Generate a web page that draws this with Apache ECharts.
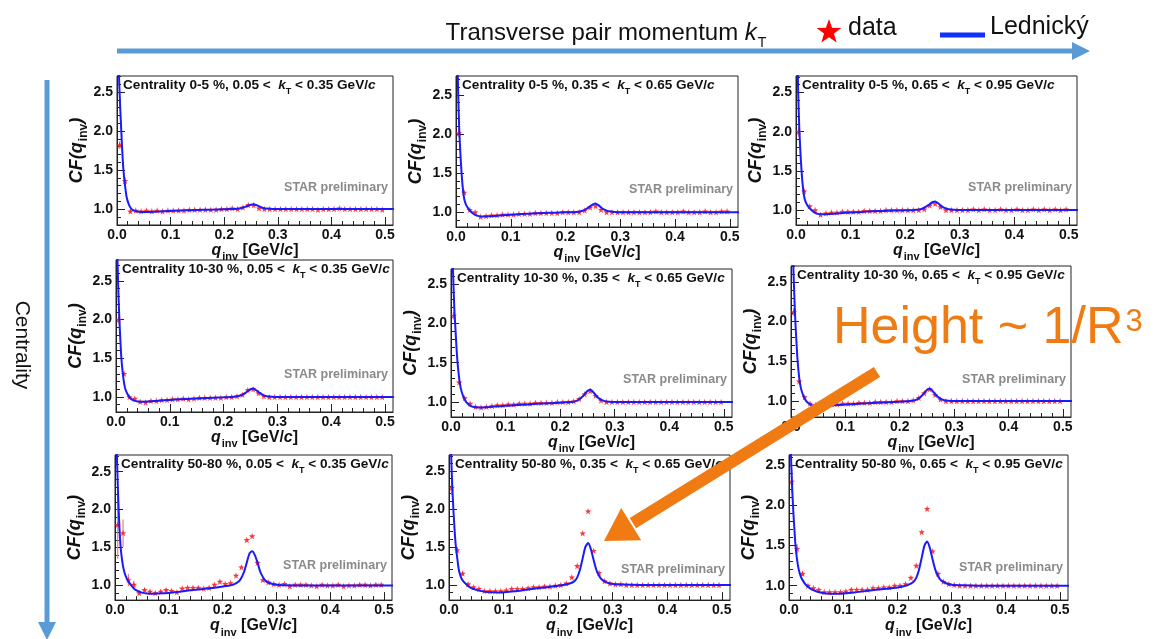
<!DOCTYPE html>
<html><head><meta charset="utf-8">
<script src="https://cdn.jsdelivr.net/npm/echarts@6/dist/echarts.min.js"></script>
<style>html,body{margin:0;padding:0;background:#fff}#c{width:1154px;height:639px}</style>
</head><body><div id="c"></div>
<script>
// ---------------- DATA ----------------
const centralityLabels = ['0-5', '10-30', '50-80'];
const ktLow = ['0.05', '0.35', '0.65'];
const ktHigh = ['0.35', '0.65', '0.95'];
const xTickValues = [0.0, 0.1, 0.2, 0.3, 0.4, 0.5];
const yTickValues = [1.0, 1.5, 2.0, 2.5];

const qData = [0.005,0.015,0.025,0.035,0.045,0.055,0.065,0.075,0.085,0.095,
  0.105,0.115,0.125,0.135,0.145,0.155,0.165,0.175,0.185,0.195,
  0.205,0.215,0.225,0.235,0.245,0.255,0.265,0.275,0.285,0.295,
  0.305,0.315,0.325,0.335,0.345,0.355,0.365,0.375,0.385,0.395,
  0.405,0.415,0.425,0.435,0.445,0.455,0.465,0.475,0.485,0.495];

const qFit = [0,0.002,0.004,0.006,0.008,0.01,0.012,0.015,0.018,0.022,
  0.026,0.03,0.035,0.04,0.05,0.06,0.07,0.08,0.09,0.1,
  0.12,0.14,0.16,0.18,0.2,0.21,0.22,0.23,0.235,0.24,
  0.245,0.25,0.255,0.26,0.265,0.27,0.275,0.28,0.29,0.3,
  0.32,0.35,0.4,0.45,0.5,0.52];

// centrality 0-5 %
const cf_c0_k1 = [1.82,1.36,0.97,0.98,0.97,0.98,0.97,0.98,0.97,0.98,
  0.98,0.98,0.98,0.99,0.99,0.99,0.99,0.99,0.99,1.00,
  1.00,1.01,1.00,1.02,1.05,1.05,1.01,1.00,1.00,1.00,
  1.00,1.00,1.00,1.00,1.00,1.00,1.00,0.99,1.00,1.00,
  1.00,1.01,1.00,1.00,1.00,1.00,1.00,1.00,1.00,0.99];
const cf_c0_k2 = [2.01,1.25,1.03,1.00,0.94,0.95,0.96,0.96,0.97,0.97,
  0.97,0.98,0.98,0.98,0.99,0.99,0.99,0.99,0.99,1.00,
  1.00,1.00,1.00,1.02,1.06,1.08,1.03,1.00,1.00,1.00,
  1.00,1.00,1.00,1.00,1.00,1.00,1.01,1.00,1.00,1.00,
  1.00,1.01,1.00,1.00,1.00,1.01,1.00,1.00,1.01,1.01];
const cf_c0_k3 = [2.00,1.24,1.05,1.00,0.94,0.96,0.97,0.97,0.98,0.98,
  0.98,0.98,0.99,0.99,0.99,0.99,1.00,1.00,1.00,1.00,
  1.00,1.00,1.00,1.01,1.06,1.08,1.04,1.00,1.00,1.00,
  1.00,1.00,1.01,1.00,1.01,1.00,1.00,1.01,1.00,1.00,
  1.01,1.00,1.00,1.01,1.00,1.01,1.00,1.01,1.00,1.01];
// centrality 10-30 %
const cf_c1_k1 = [2.00,1.30,1.00,0.98,0.94,0.93,0.95,0.95,0.96,0.96,
  0.97,0.97,0.98,0.97,0.98,0.99,0.99,0.99,0.99,0.99,
  1.00,1.00,1.01,1.03,1.09,1.10,1.05,1.01,1.00,1.00,
  1.00,1.00,1.00,1.00,1.00,1.00,1.00,1.00,1.00,1.00,
  1.00,1.00,1.00,1.00,1.00,1.00,1.00,1.00,1.00,1.00];
const cf_c1_k2 = [2.10,1.25,1.05,0.98,0.94,0.93,0.94,0.95,0.96,0.96,
  0.97,0.97,0.98,0.98,0.98,0.99,0.99,0.99,0.99,1.00,
  1.00,1.00,1.01,1.04,1.10,1.14,1.08,1.02,1.00,1.00,
  1.00,1.00,1.00,1.00,1.00,1.00,1.00,1.00,1.00,1.00,
  1.00,1.00,1.00,1.00,1.00,1.00,1.00,1.00,1.00,1.00];
const cf_c1_k3 = [2.12,1.25,1.05,0.97,0.95,0.94,0.95,0.96,0.96,0.97,
  0.97,0.97,0.98,0.98,0.98,0.99,0.99,0.99,0.99,1.00,
  1.00,1.00,1.01,1.04,1.10,1.15,1.08,1.02,1.00,1.00,
  1.00,1.00,1.00,1.00,1.00,1.00,1.00,1.00,1.00,1.00,
  1.00,1.00,1.00,1.00,1.00,1.00,1.00,1.00,1.00,1.00];
// centrality 50-80 %
const cf_c2_k1 = [1.80,1.69,1.07,1.01,0.90,0.94,0.92,0.90,0.92,0.94,
  0.93,0.91,0.96,0.97,0.97,0.97,0.96,0.97,1.01,1.05,
  1.02,1.03,1.13,1.24,1.60,1.65,1.30,1.07,1.04,1.02,
  1.01,1.02,0.99,1.01,1.01,1.01,1.00,0.99,1.01,1.00,
  1.00,1.01,0.99,1.00,1.00,1.01,1.01,1.00,1.01,1.01];
const cf_c2_k2 = [2.28,1.46,1.15,1.01,0.97,0.95,0.92,0.92,0.92,0.92,
  0.93,0.95,0.95,0.95,0.96,0.97,0.97,0.98,0.98,0.99,
  1.00,1.02,1.10,1.25,1.68,1.97,1.45,1.16,1.05,1.02,
  1.01,1.01,1.00,1.00,1.00,1.00,1.00,1.00,1.00,1.00,
  1.00,1.00,1.00,1.00,1.00,1.00,1.00,1.00,1.00,1.00];
const cf_c2_k3 = [2.30,1.46,1.15,1.00,0.97,0.95,0.92,0.92,0.92,0.92,
  0.93,0.95,0.95,0.95,0.95,0.97,0.97,0.98,0.98,1.00,
  1.00,1.02,1.10,1.25,1.67,1.96,1.43,1.15,1.05,1.02,
  1.01,1.00,1.00,1.00,1.00,1.00,1.00,1.00,1.00,1.00,
  1.00,1.00,1.00,1.00,1.00,1.00,1.00,1.00,1.00,1.00];

// statistical errors of the first bins (later bins: smaller than the marker)
const err_c0_k1 = [0.05,0.04,0.02,0.01];
const err_c0_k2 = [0.06,0.02,0.01];
const err_c0_k3 = [0.06,0.02,0.01];
const err_c1_k1 = [0.05,0.02];
const err_c1_k2 = [0.05,0.02];
const err_c1_k3 = [0.05,0.02];
const err_c2_k1 = [0.45,0.18,0.08,0.05,0.03,0.02,0.02,0.02,0.02,0.02];
const err_c2_k2 = [0.10,0.04,0.03,0.02];
const err_c2_k3 = [0.15,0.06,0.03,0.02];

// Lednický fits
const fit_c0_k1 = [3.6,3.1,2.65,2.3,2.0,1.72,1.5,1.3,1.15,1.06,
  1.01,0.985,0.972,0.965,0.962,0.962,0.965,0.968,0.972,0.975,
  0.98,0.985,0.99,0.993,0.997,0.999,1.0,1.01,1.02,1.03,
  1.045,1.055,1.06,1.05,1.035,1.02,1.01,1.005,1.0,1.0,
  1.0,1.0,1.0,1.0,1.0,1.0];
const fit_c0_k2 = [4.0,3.2,2.5,2.05,1.75,1.52,1.34,1.17,1.1,1.05,
  1.015,0.99,0.965,0.952,0.945,0.947,0.952,0.957,0.962,0.967,
  0.975,0.982,0.988,0.993,0.997,0.999,1.003,1.015,1.03,1.05,
  1.075,1.1,1.11,1.09,1.06,1.035,1.02,1.01,1.003,1.0,
  1.0,1.0,1.0,1.0,1.0,1.0];
const fit_c0_k3 = [4.0,3.2,2.5,2.05,1.75,1.52,1.34,1.17,1.1,1.05,
  1.015,0.99,0.965,0.952,0.947,0.95,0.955,0.96,0.965,0.97,
  0.977,0.984,0.99,0.994,0.997,0.999,1.003,1.015,1.03,1.05,
  1.075,1.1,1.11,1.09,1.06,1.035,1.02,1.01,1.003,1.0,
  1.0,1.0,1.0,1.0,1.0,1.0];
const fit_c1_k1 = [3.6,3.0,2.45,2.05,1.75,1.5,1.35,1.18,1.09,1.03,
  0.99,0.965,0.95,0.943,0.94,0.942,0.947,0.952,0.957,0.962,
  0.97,0.977,0.984,0.99,0.995,0.998,1.002,1.015,1.03,1.05,
  1.075,1.1,1.11,1.09,1.065,1.04,1.02,1.01,1.003,1.0,
  1.0,1.0,1.0,1.0,1.0,1.0];
const fit_c1_k2 = [4.2,3.1,2.6,2.2,1.95,1.7,1.5,1.3,1.17,1.08,
  1.02,0.985,0.955,0.94,0.93,0.932,0.937,0.943,0.948,0.953,
  0.962,0.97,0.978,0.985,0.992,0.996,1.0,1.015,1.035,1.065,
  1.1,1.14,1.16,1.13,1.09,1.055,1.03,1.015,1.004,1.0,
  1.0,1.0,1.0,1.0,1.0,1.0];
const fit_c1_k3 = [4.0,3.3,2.75,2.35,2.0,1.75,1.52,1.3,1.17,1.08,
  1.02,0.985,0.96,0.945,0.935,0.937,0.942,0.947,0.952,0.957,
  0.965,0.972,0.98,0.986,0.992,0.996,1.0,1.015,1.035,1.065,
  1.1,1.14,1.16,1.13,1.09,1.055,1.03,1.015,1.004,1.0,
  1.0,1.0,1.0,1.0,1.0,1.0];
const fit_c2_k1 = [3.6,3.1,2.6,2.15,1.8,1.55,1.4,1.25,1.16,1.09,
  1.04,1.0,0.96,0.935,0.905,0.893,0.89,0.892,0.896,0.9,
  0.915,0.935,0.95,0.965,0.985,0.995,1.01,1.05,1.1,1.18,
  1.3,1.42,1.45,1.4,1.3,1.18,1.11,1.06,1.025,1.01,
  1.003,1.0,1.0,1.0,1.0,1.0];
const fit_c2_k2 = [3.8,3.2,2.7,2.3,2.0,1.75,1.55,1.36,1.2,1.1,
  1.05,1.02,0.985,0.96,0.935,0.918,0.907,0.902,0.9,0.902,
  0.915,0.935,0.955,0.97,0.99,1.0,1.015,1.05,1.1,1.2,
  1.35,1.5,1.55,1.47,1.33,1.2,1.12,1.07,1.03,1.012,
  1.004,1.0,1.0,1.0,1.0,1.0];
const fit_c2_k3 = [3.8,3.1,2.55,2.2,1.92,1.7,1.5,1.32,1.2,1.11,
  1.06,1.02,0.985,0.96,0.93,0.913,0.903,0.9,0.9,0.903,
  0.915,0.932,0.948,0.962,0.978,0.99,1.01,1.05,1.1,1.2,
  1.35,1.5,1.55,1.47,1.33,1.2,1.12,1.07,1.03,1.012,
  1.004,1.0,1.0,1.0,1.0,1.0];

const panelData = [[cf_c0_k1, cf_c0_k2, cf_c0_k3],[cf_c1_k1, cf_c1_k2, cf_c1_k3],[cf_c2_k1, cf_c2_k2, cf_c2_k3]];
const panelErr  = [[err_c0_k1, err_c0_k2, err_c0_k3],[err_c1_k1, err_c1_k2, err_c1_k3],[err_c2_k1, err_c2_k2, err_c2_k3]];
const panelFit  = [[fit_c0_k1, fit_c0_k2, fit_c0_k3],[fit_c1_k1, fit_c1_k2, fit_c1_k3],[fit_c2_k1, fit_c2_k2, fit_c2_k3]];

// ---------------- LAYOUT ----------------
const FONT = '"Liberation Sans", Arial, Helvetica, sans-serif';
const frames = [
  [[117,76,393,225],[456,76,738,227],[796,76,1077,225]],
  [[116,260,393,412],[451,269,732,417],[791,266,1071,417]],
  [[115,455,392,603],[449,455,730,607],[789,455,1068,605]]
];
const yRanges = [
  [[0.795,2.705],[0.81,2.74],[0.81,2.71]],
  [[0.806,2.77],[0.81,2.69],[0.80,2.70]],
  [[0.806,2.72],[0.80,2.71],[0.82,2.63]]
];
const X_MAX = 0.515;
const xMinor = []; for (let v = 0.02; v < 0.515; v += 0.02) xMinor.push(+v.toFixed(2));
const yMinor = []; for (let v = 0.9; v < 2.75; v += 0.1) yMinor.push(+v.toFixed(1));
const STAR = 'path://M50 0 L61.76 33.82 L97.55 34.55 L69.02 56.18 L79.39 90.45 L50 70 L20.61 90.45 L30.98 56.18 L2.45 34.55 L38.24 33.82 Z';

const grids = [], xAxes = [], yAxes = [], series = [], graphics = [];
let g = 0;
for (let r = 0; r < 3; r++) {
  for (let c = 0; c < 3; c++) {
    const [x0, y0, x1, y1] = frames[r][c];
    grids.push({left: x0, top: y0, width: x1 - x0, height: y1 - y0, show: true,
      borderColor: '#222', borderWidth: 1, backgroundColor: 'rgba(0,0,0,0)'});
    const axBase = {gridIndex: g, type: 'value', splitLine: {show: false}};
    xAxes.push(Object.assign({}, axBase, {
      min: 0, max: X_MAX, position: 'bottom',
      axisLine: {show: true, onZero: false, lineStyle: {color: '#222', width: 1}},
      axisTick: {show: true, inside: true, length: 8, customValues: xTickValues, lineStyle: {color: '#222'}},
      axisLabel: {customValues: xTickValues, formatter: v => v.toFixed(1), fontFamily: FONT, fontWeight: 'bold', fontSize: 14, color: '#111', margin: 3},
      name: '{q|q}{s|inv}{a| [GeV/}{c|c}{a|]}', nameLocation: 'middle', nameGap: 8,
      nameTextStyle: {rich: {
        q: {fontFamily: FONT, fontWeight: 'bold', fontStyle: 'italic', fontSize: 16, color: '#111', verticalAlign: 'top', lineHeight: 16},
        s: {fontFamily: FONT, fontWeight: 'bold', fontSize: 11, color: '#111', verticalAlign: 'top', lineHeight: 11, padding: [9,0,0,1]},
        a: {fontFamily: FONT, fontWeight: 'bold', fontSize: 16, color: '#111', verticalAlign: 'top', lineHeight: 16},
        c: {fontFamily: FONT, fontWeight: 'bold', fontStyle: 'italic', fontSize: 16, color: '#111', verticalAlign: 'top', lineHeight: 16}
      }}
    }));
    xAxes.push(Object.assign({}, axBase, {
      min: 0, max: X_MAX, position: 'bottom', axisLine: {show: false},
      axisTick: {show: true, inside: true, length: 4, customValues: xMinor, lineStyle: {color: '#222'}},
      axisLabel: {show: false}
    }));
    const [ymin, ymax] = yRanges[r][c];
    yAxes.push(Object.assign({}, axBase, {
      min: ymin, max: ymax, position: 'left',
      axisLine: {show: true, onZero: false, lineStyle: {color: '#222', width: 1}},
      axisTick: {show: true, inside: true, length: 8, customValues: yTickValues, lineStyle: {color: '#222'}},
      axisLabel: {customValues: yTickValues, formatter: v => v.toFixed(1), fontFamily: FONT, fontWeight: 'bold', fontSize: 14, color: '#111', margin: 4},
      name: '{a|CF(q}{s|inv}{a|)}', nameLocation: 'middle', nameGap: 28, nameRotate: 90,
      nameTextStyle: {rich: {
        a: {fontFamily: FONT, fontWeight: 'bold', fontStyle: 'italic', fontSize: 18, color: '#111', verticalAlign: 'top', lineHeight: 18},
        s: {fontFamily: FONT, fontWeight: 'bold', fontSize: 12, color: '#111', verticalAlign: 'top', lineHeight: 12, padding: [10,0,0,1]}
      }}
    }));
    yAxes.push(Object.assign({}, axBase, {
      min: ymin, max: ymax, position: 'left', axisLine: {show: false},
      axisTick: {show: true, inside: true, length: 4, customValues: yMinor, lineStyle: {color: '#222'}},
      axisLabel: {show: false}
    }));

    const pts = panelData[r][c];
    const errs = panelErr[r][c];
    const fit = panelFit[r][c];
    // error bars
    series.push({
      type: 'custom', xAxisIndex: 2 * g, yAxisIndex: 2 * g, z: 2, silent: true,
      data: pts.map((v, i) => [qData[i], v, errs[i] || 0]),
      renderItem: (params, api) => {
        const cs = params.coordSys;
        const x = api.value(0), y = api.value(1), e = api.value(2);
        const clampY = p => Math.max(cs.y, Math.min(cs.y + cs.height, p));
        const pL = api.coord([x - 0.0035, y]), pR = api.coord([x + 0.0035, y]);
        const ch = [{type: 'line', shape: {x1: pL[0], y1: pL[1], x2: pR[0], y2: pR[1]}, style: {stroke: '#f6a3a3', lineWidth: 1}}];
        if (e > 0) {
          const pT = api.coord([x, y + e]), pB = api.coord([x, y - e]);
          ch.push({type: 'line', shape: {x1: pT[0], y1: clampY(pT[1]), x2: pB[0], y2: clampY(pB[1])}, style: {stroke: '#f37a7a', lineWidth: 1.2}});
        }
        return {type: 'group', children: ch};
      }
    });
    series.push({
      type: 'scatter', xAxisIndex: 2 * g, yAxisIndex: 2 * g, z: 3, silent: true,
      symbol: STAR, symbolSize: 6.5, itemStyle: {color: '#ff1010'},
      data: pts.map((v, i) => [qData[i], v])
    });
    series.push({
      type: 'line', xAxisIndex: 2 * g, yAxisIndex: 2 * g, z: 4, silent: true,
      showSymbol: false, smooth: 0.25, clip: true,
      lineStyle: {color: '#1a1aff', width: 2},
      data: fit.map((v, i) => [qFit[i], v])
    });

    // panel header
    graphics.push({type: 'text', x: x0 + 6, y: y0 + 2, z: 10, silent: true, style: {
      text: `{b|Centrality ${centralityLabels[r]} %, ${ktLow[c]} <  }{k|k}{s|T}{b| < ${ktHigh[c]} GeV/}{c|c}`,
      align: 'left', verticalAlign: 'top',
      rich: {
        b: {fontFamily: FONT, fontWeight: 'bold', fontSize: 13.6, fill: '#111', verticalAlign: 'top', lineHeight: 15},
        k: {fontFamily: FONT, fontWeight: 'bold', fontStyle: 'italic', fontSize: 13.6, fill: '#111', verticalAlign: 'top', lineHeight: 15},
        s: {fontFamily: FONT, fontWeight: 'bold', fontSize: 9, fill: '#111', verticalAlign: 'top', lineHeight: 9, padding: [9,0,0,0]},
        c: {fontFamily: FONT, fontWeight: 'bold', fontStyle: 'italic', fontSize: 13.6, fill: '#111', verticalAlign: 'top', lineHeight: 15}
      }
    }});
    graphics.push({type: 'text', x: x1 - 5, y: y1 - 37, z: 10, silent: true, style: {
      text: 'STAR preliminary', align: 'right', verticalAlign: 'middle',
      fontFamily: FONT, fontWeight: 'bold', fontSize: 12.5, fill: '#8a8a8a'
    }});
    g++;
  }
}

// ---------- slide decorations ----------
const BLUE_ARROW = '#5b9bd5';
graphics.push({type: 'line', z: 1, silent: true, shape: {x1: 117, y1: 51, x2: 1075, y2: 51}, style: {stroke: BLUE_ARROW, lineWidth: 5}});
graphics.push({type: 'polygon', z: 1, silent: true, shape: {points: [[1072, 42], [1090, 51], [1072, 60]]}, style: {fill: BLUE_ARROW}});
graphics.push({type: 'line', z: 1, silent: true, shape: {x1: 47, y1: 80, x2: 47, y2: 624}, style: {stroke: BLUE_ARROW, lineWidth: 5}});
graphics.push({type: 'polygon', z: 1, silent: true, shape: {points: [[38, 622], [47, 640], [56, 622]]}, style: {fill: BLUE_ARROW}});
graphics.push({type: 'text', x: 606, y: 35, z: 10, silent: true, style: {
  text: '{t|Transverse pair momentum }{k|k}{s|T}', align: 'center', verticalAlign: 'middle',
  rich: {
    t: {fontFamily: FONT, fontSize: 24, fill: '#111', verticalAlign: 'top', lineHeight: 27},
    k: {fontFamily: FONT, fontStyle: 'italic', fontSize: 24, fill: '#111', verticalAlign: 'top', lineHeight: 27},
    s: {fontFamily: FONT, fontSize: 14, fill: '#111', verticalAlign: 'top', lineHeight: 14, padding: [15,0,0,1]}
  }
}});
graphics.push({type: 'text', x: 22, y: 345, z: 10, silent: true, rotation: -Math.PI / 2, style: {
  text: 'Centrality', align: 'center', verticalAlign: 'middle', fontFamily: FONT, fontSize: 21, fill: '#111'
}});
// legend
function starPts(cx, cy, R, rr) {
  const p = [];
  for (let i = 0; i < 10; i++) {
    const a = -Math.PI / 2 + i * Math.PI / 5;
    const rad = i % 2 === 0 ? R : rr;
    p.push([cx + rad * Math.cos(a), cy + rad * Math.sin(a)]);
  }
  return p;
}
graphics.push({type: 'polygon', z: 10, silent: true, shape: {points: starPts(829, 32, 13, 5.2)}, style: {fill: '#ff0000'}});
graphics.push({type: 'text', x: 848, y: 28, z: 10, silent: true, style: {text: 'data', align: 'left', verticalAlign: 'middle', fontFamily: FONT, fontSize: 25, fill: '#111'}});
graphics.push({type: 'line', z: 10, silent: true, shape: {x1: 940, y1: 35, x2: 985, y2: 35}, style: {stroke: '#1030ff', lineWidth: 5}});
graphics.push({type: 'text', x: 990, y: 27, z: 10, silent: true, style: {text: 'Lednický', align: 'left', verticalAlign: 'middle', fontFamily: FONT, fontSize: 25, fill: '#111'}});
// orange annotation
const ORANGE = '#ef7b12';
graphics.push({type: 'text', x: 833, y: 332, z: 20, silent: true, style: {
  text: '{h|Height ~ 1/R}{p|3}', align: 'left', verticalAlign: 'middle',
  rich: {
    h: {fontFamily: FONT, fontSize: 52, fill: ORANGE, verticalAlign: 'top', lineHeight: 58},
    p: {fontFamily: FONT, fontSize: 31, fill: ORANGE, verticalAlign: 'top', lineHeight: 31, padding: [4,0,0,2]}
  }
}});
(function () {
  const tip = [604, 541], tail = [877, 372];
  const dx = tail[0] - tip[0], dy = tail[1] - tip[1], L = Math.hypot(dx, dy);
  const u = [dx / L, dy / L], n = [-u[1], u[0]];
  const headLen = 32, headHalf = 19;
  const base = [tip[0] + u[0] * headLen, tip[1] + u[1] * headLen];
  graphics.push({type: 'line', z: 20, silent: true, shape: {x1: tail[0], y1: tail[1], x2: base[0] + u[0] * 2, y2: base[1] + u[1] * 2}, style: {stroke: ORANGE, lineWidth: 12}});
  graphics.push({type: 'polygon', z: 20, silent: true, shape: {points: [tip,
    [base[0] + n[0] * headHalf, base[1] + n[1] * headHalf],
    [base[0] - n[0] * headHalf, base[1] - n[1] * headHalf]]}, style: {fill: ORANGE}});
})();

const chart = echarts.init(document.getElementById('c'), null, {renderer: 'canvas'});
chart.setOption({
  animation: false,
  backgroundColor: '#ffffff',
  grid: grids, xAxis: xAxes, yAxis: yAxes, series: series, graphic: graphics
});
</script>
</body></html>
